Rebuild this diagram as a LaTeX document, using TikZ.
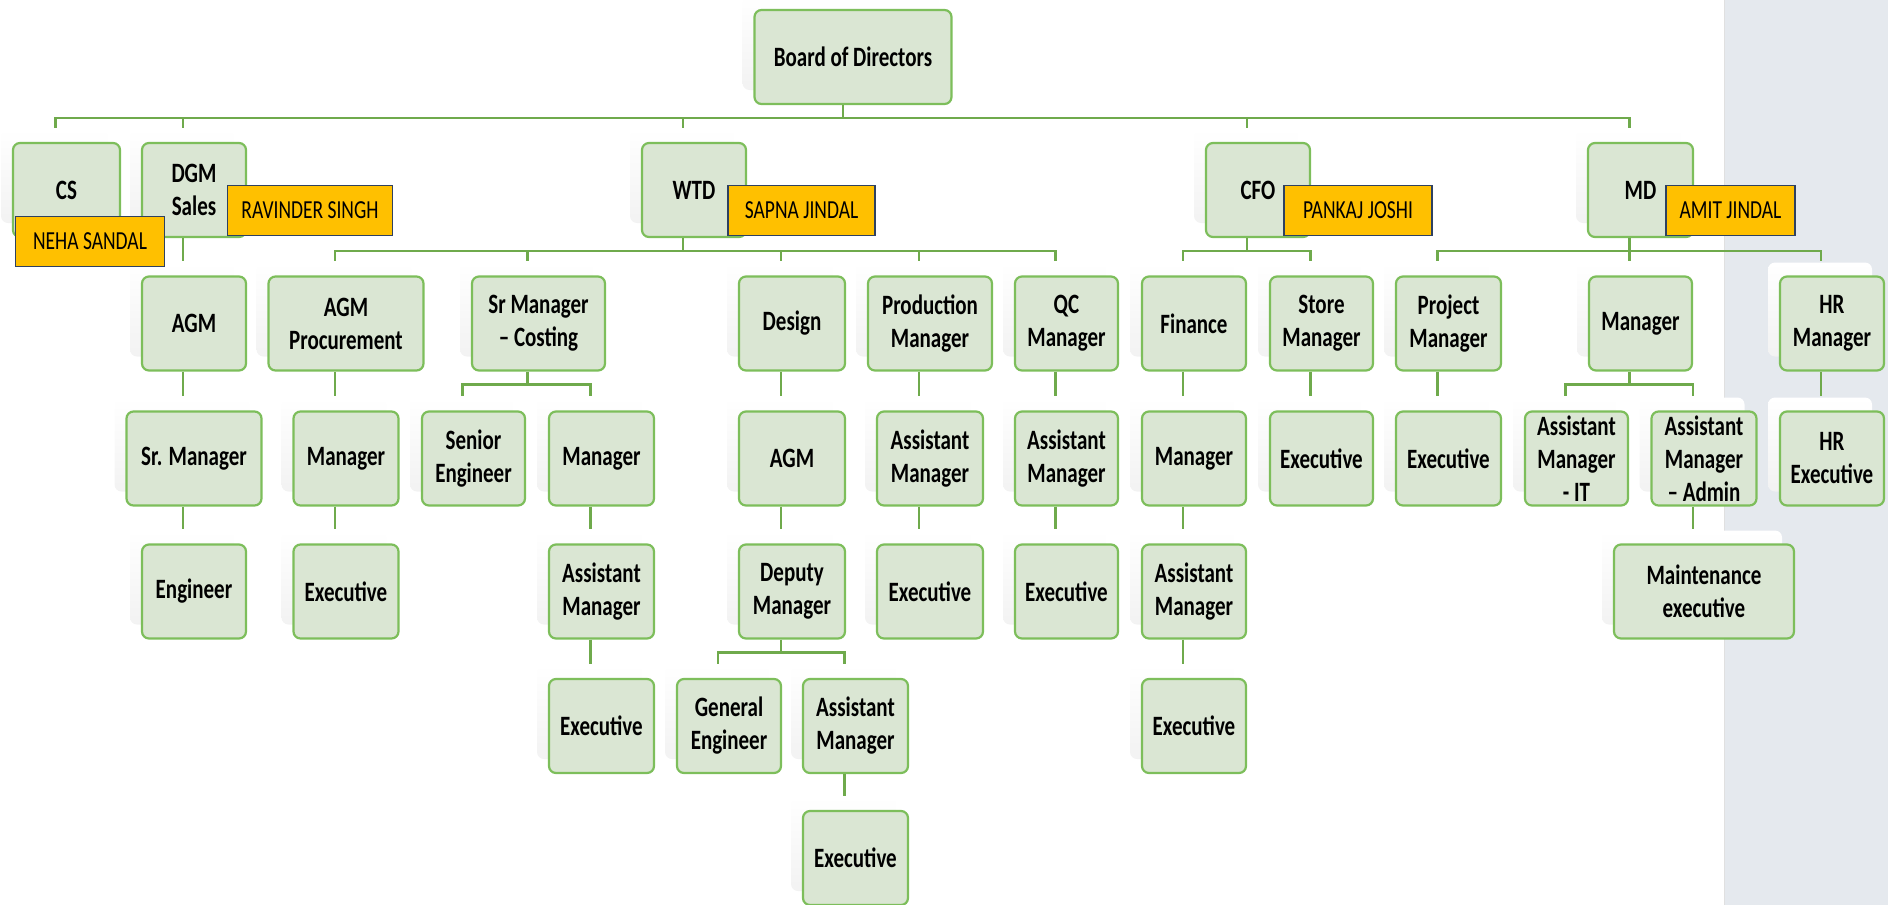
\documentclass[tikz,border=0pt]{standalone}
\usepackage{fontspec}
\setmainfont{Carlito}[FakeStretch=0.75]
\usetikzlibrary{shadows}
\definecolor{boxfill}{HTML}{DAE6D3}
\definecolor{boxline}{HTML}{7DBE5B}
\definecolor{linkgreen}{HTML}{6FAA4C}
\definecolor{namefill}{HTML}{FFC000}
\definecolor{nameline}{HTML}{2F4160}
\definecolor{panelgray}{HTML}{E5E9EE}
\begin{document}
\begin{tikzpicture}[x=1pt,y=-1pt,
  box/.style={draw=boxline,line width=2.2pt,fill=boxfill,rounded corners=7pt,
    minimum width=104pt,minimum height=94pt,inner sep=0pt,align=center,
    font=\fontsize{28}{33}\selectfont\bfseries,
    general shadow={shadow xshift=-12pt,shadow yshift=14pt,draw=none,
      top color=white,bottom color=black!5}},
  person/.style={draw=nameline,line width=1.6pt,fill=namefill,
    minimum height=50pt,inner sep=0pt,font=\fontsize{26}{28}\selectfont},
  link/.style={draw=linkgreen,line width=2.6pt}]
  \useasboundingbox (0,0) rectangle (1888,905);
  % grey strip on the right
  \fill[panelgray] (1724,0) rectangle (1888,905);
  \draw[black!12,line width=1pt] (1724,0) -- (1724,905);
  % top
  \node[box,minimum width=197pt] (board) at (853,57) {Board of Directors};
  % level 1
  \node[box,minimum width=107pt] (cs) at (66.5,190) {CS};
  \node[box] (dgm) at (194,190) {DGM\\Sales};
  \node[box] (wtd) at (694,190) {WTD};
  \node[box] (cfo) at (1258,190) {CFO};
  \node[box,minimum width=105pt] (md) at (1640.5,190) {MD};
  % level 2
  \node[box] (agm) at (194,323.5) {AGM};
  \node[box,minimum width=155pt] (agmp) at (346,323.5) {AGM\\Procurement};
  \node[box,minimum width=133pt] (costing) at (538.5,323.5) {Sr Manager\\– Costing};
  \node[box,minimum width=106pt] (design) at (792,323.5) {Design};
  \node[box,minimum width=124pt] (prod) at (930,323.5) {Production\\Manager};
  \node[box,minimum width=103pt] (qc) at (1066.5,323.5) {QC\\Manager};
  \node[box] (fin) at (1194,323.5) {Finance};
  \node[box,minimum width=103pt] (store) at (1321.5,323.5) {Store\\Manager};
  \node[box,minimum width=105pt] (proj) at (1448.5,323.5) {Project\\Manager};
  \node[box,minimum width=103pt] (mdmgr) at (1640.5,323.5) {Manager};
  \node[box] (hrmgr) at (1832,323.5) {HR\\Manager};
  % level 3
  \node[box,minimum width=135pt] (srmgr) at (194,458.5) {Sr. Manager};
  \node[box,minimum width=105pt] (pmgr) at (346,458.5) {Manager};
  \node[box,minimum width=103pt] (senior) at (473.5,458.5) {Senior\\Engineer};
  \node[box,minimum width=105pt] (cmgr) at (601.5,458.5) {Manager};
  \node[box,minimum width=106pt] (dagm) at (792,458.5) {AGM};
  \node[box,minimum width=106pt] (prodam) at (930,458.5) {Assistant\\Manager};
  \node[box,minimum width=103pt] (qcam) at (1066.5,458.5) {Assistant\\Manager};
  \node[box] (finmgr) at (1194,458.5) {Manager};
  \node[box,minimum width=103pt] (storeex) at (1321.5,458.5) {Executive};
  \node[box,minimum width=105pt] (projex) at (1448.5,458.5) {Executive};
  \node[box,minimum width=103pt] (amit) at (1576.5,458.5) {Assistant\\Manager\\- IT};
  \node[box,minimum width=105pt] (amadmin) at (1704,458.5) {Assistant\\Manager\\– Admin};
  \node[box] (hrex) at (1832,458.5) {HR\\Executive};
  % level 4
  \node[box] (eng) at (194,591.5) {Engineer};
  \node[box,minimum width=105pt] (pex) at (346,591.5) {Executive};
  \node[box,minimum width=105pt] (cam) at (601.5,591.5) {Assistant\\Manager};
  \node[box,minimum width=106pt] (deputy) at (792,591.5) {Deputy\\Manager};
  \node[box,minimum width=106pt] (prodex) at (930,591.5) {Executive};
  \node[box,minimum width=103pt] (qcex) at (1066.5,591.5) {Executive};
  \node[box] (finam) at (1194,591.5) {Assistant\\Manager};
  \node[box,minimum width=180pt] (maint) at (1704,591.5) {Maintenance\\executive};
  % level 5
  \node[box,minimum width=105pt] (cex) at (601.5,726) {Executive};
  \node[box] (geneng) at (729,726) {General\\Engineer};
  \node[box,minimum width=105pt] (dam) at (855.5,726) {Assistant\\Manager};
  \node[box] (finex) at (1194,726) {Executive};
  % level 6
  \node[box,minimum width=105pt] (dex) at (855.5,858) {Executive};
  % connectors with a bus
  \draw[link] ([xshift=-10pt]board.south) -- ++(0,13) coordinate (b0);
  \foreach \c in {cs,dgm,wtd,cfo,md}
    \draw[link] (b0) -| ([xshift=-11pt,yshift=14pt]\c.north);
  \draw[link] ([xshift=-11pt]wtd.south) -- ++(0,13) coordinate (b1);
  \foreach \c in {agmp,costing,design,prod,qc}
    \draw[link] (b1) -| ([xshift=-11pt,yshift=14pt]\c.north);
  \draw[link] ([xshift=-11pt]cfo.south) -- ++(0,13) coordinate (b2);
  \foreach \c in {fin,store}
    \draw[link] (b2) -| ([xshift=-11pt,yshift=14pt]\c.north);
  \draw[link] ([xshift=-11pt]md.south) -- ++(0,13) coordinate (b3);
  \foreach \c in {proj,mdmgr,hrmgr}
    \draw[link] (b3) -| ([xshift=-11pt,yshift=14pt]\c.north);
  \draw[link] ([xshift=-11pt]costing.south) -- ++(0,13) coordinate (b4);
  \foreach \c in {senior,cmgr}
    \draw[link] (b4) -| ([xshift=-11pt,yshift=14pt]\c.north);
  \draw[link] ([xshift=-11pt]mdmgr.south) -- ++(0,13) coordinate (b5);
  \foreach \c in {amit,amadmin}
    \draw[link] (b5) -| ([xshift=-11pt,yshift=14pt]\c.north);
  \draw[link] ([xshift=-11pt]deputy.south) -- ++(0,13) coordinate (b6);
  \foreach \c in {geneng,dam}
    \draw[link] (b6) -| ([xshift=-11pt,yshift=14pt]\c.north);
  % single child connectors
  \foreach \p/\c in {dgm/agm,agm/srmgr,srmgr/eng,agmp/pmgr,pmgr/pex,
      cmgr/cam,cam/cex,design/dagm,dagm/deputy,dam/dex,prod/prodam,
      prodam/prodex,qc/qcam,qcam/qcex,fin/finmgr,finmgr/finam,finam/finex,
      store/storeex,proj/projex,amadmin/maint,hrmgr/hrex}
    \draw[link] ([xshift=-11pt]\p.south) -- ([xshift=-11pt,yshift=14pt]\c.north);
  % names
  \node[person,minimum width=149pt] (neha) at (90,241.5) {NEHA SANDAL};
  \node[person,minimum width=165pt] (ravinder) at (310,210.5) {RAVINDER SINGH};
  \node[person,minimum width=147pt] (sapna) at (801.5,210.5) {SAPNA JINDAL};
  \node[person,minimum width=148pt] (pankaj) at (1358,210.5) {PANKAJ JOSHI};
  \node[person,minimum width=129pt] (amitj) at (1730.5,210.5) {AMIT JINDAL};
\end{tikzpicture}
\end{document}
